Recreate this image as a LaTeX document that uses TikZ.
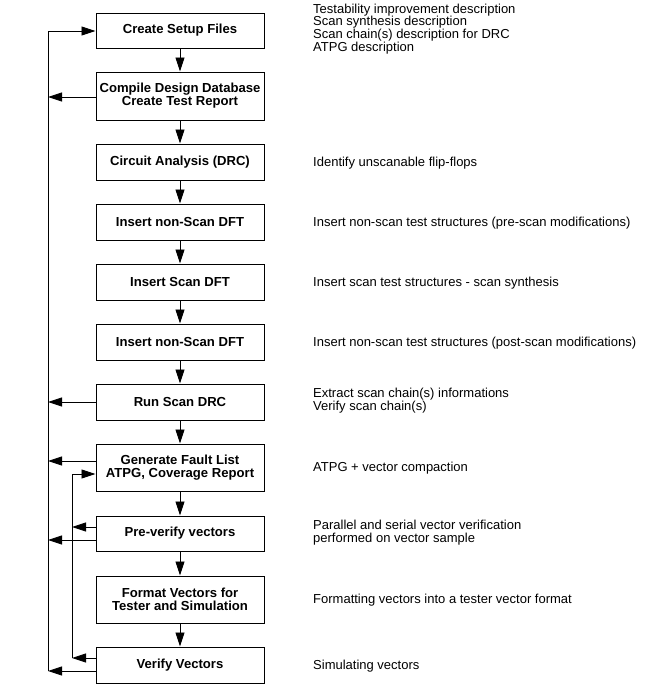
\documentclass[tikz,border=0pt]{standalone}
\usepackage{fontspec}
\setmainfont{Liberation Sans}
\usetikzlibrary{arrows.meta}
\begin{document}
\begin{tikzpicture}[x=1pt,y=-1pt,
 box/.style={draw, line width=1pt, minimum width=168pt, font=\bfseries\fontsize{13.1}{13.2}\selectfont, align=center, inner sep=0pt},
 note/.style={anchor=west, font=\fontsize{13}{12.9}\selectfont, align=left, inner sep=0pt},
 arr/.style={-{Triangle[length=14pt,width=9pt]}, line width=0.9pt},
 ln/.style={line width=0.9pt}]
\useasboundingbox (0,0) rectangle (650,689);
% boxes
\node[box, minimum height=35pt] (b1) at (180,30.5) {Create Setup Files};
\node[box, minimum height=48pt] (b2) at (180,96) {Compile Design Database\\Create Test Report};
\node[box, minimum height=36pt] (b3) at (180,162) {Circuit Analysis (DRC)};
\node[box, minimum height=36pt] (b4) at (180,222) {Insert non-Scan DFT};
\node[box, minimum height=36pt] (b5) at (180,282) {Insert Scan DFT};
\node[box, minimum height=36pt] (b6) at (180,342) {Insert non-Scan DFT};
\node[box, minimum height=36pt] (b7) at (180,402) {Run Scan DRC};
\node[box, minimum height=47pt] (b8) at (180,467.5) {Generate Fault List\\ATPG, Coverage Report};
\node[box, minimum height=35pt] (b9) at (180,533.5) {Pre-verify vectors};
\node[box, minimum height=47pt] (b10) at (180,599.5) {Format Vectors for\\Tester and Simulation};
\node[box, minimum height=36pt] (b11) at (180,665) {Verify Vectors};
% notes
\node[note] (t1) at (313,29) {Testability improvement description\\Scan synthesis description\\Scan chain(s) description for DRC\\ATPG description};
\node[note] (t3) at (313,163) {Identify unscanable flip-flops};
\node[note] (t4) at (313,223) {Insert non-scan test structures (pre-scan modifications)};
\node[note] (t5) at (313,283) {Insert scan test structures - scan synthesis};
\node[note] (t6) at (313,343) {Insert non-scan test structures (post-scan modifications)};
\node[note] (t7) at (313,401) {Extract scan chain(s) informations\\Verify scan chain(s)};
\node[note] (t8) at (313,468) {ATPG + vector compaction};
\node[note] (t9) at (313,532.5) {Parallel and serial vector verification\\performed on vector sample};
\node[note] (t10) at (313,600) {Formatting vectors into a tester vector format};
\node[note] (t11) at (313,666) {Simulating vectors};
% down arrows
\foreach \a/\b in {b1/b2,b2/b3,b3/b4,b4/b5,b5/b6,b6/b7,b7/b8,b8/b9,b9/b10,b10/b11}
  \draw[arr] (\a.south) -- (\b.north);
% outer feedback line
\coordinate (ot) at (48,31);
\coordinate (ob) at (48,671);
\coordinate (o2) at (48,97);
\coordinate (o7) at (48,402);
\coordinate (o8) at (48,461);
\coordinate (o9) at (48,540);
\draw[ln] (ob) -- (ot);
\draw[arr] (ot) -- (ot -| b1.west);
\draw[arr] (b2.west |- o2) -- (o2);
\draw[arr] (b7.west |- o7) -- (o7);
\draw[arr] (b8.west |- o8) -- (o8);
\draw[arr] (b9.west |- o9) -- (o9);
\draw[arr] (b11.west |- ob) -- (ob);
% inner feedback line
\coordinate (it) at (72,474);
\coordinate (ib) at (72,658);
\coordinate (i9) at (72,527);
\draw[ln] (ib) -- (it);
\draw[arr] (it) -- (it -| b8.west);
\draw[arr] (b9.west |- i9) -- (i9);
\draw[arr] (b11.west |- ib) -- (ib);
\end{tikzpicture}
\end{document}
